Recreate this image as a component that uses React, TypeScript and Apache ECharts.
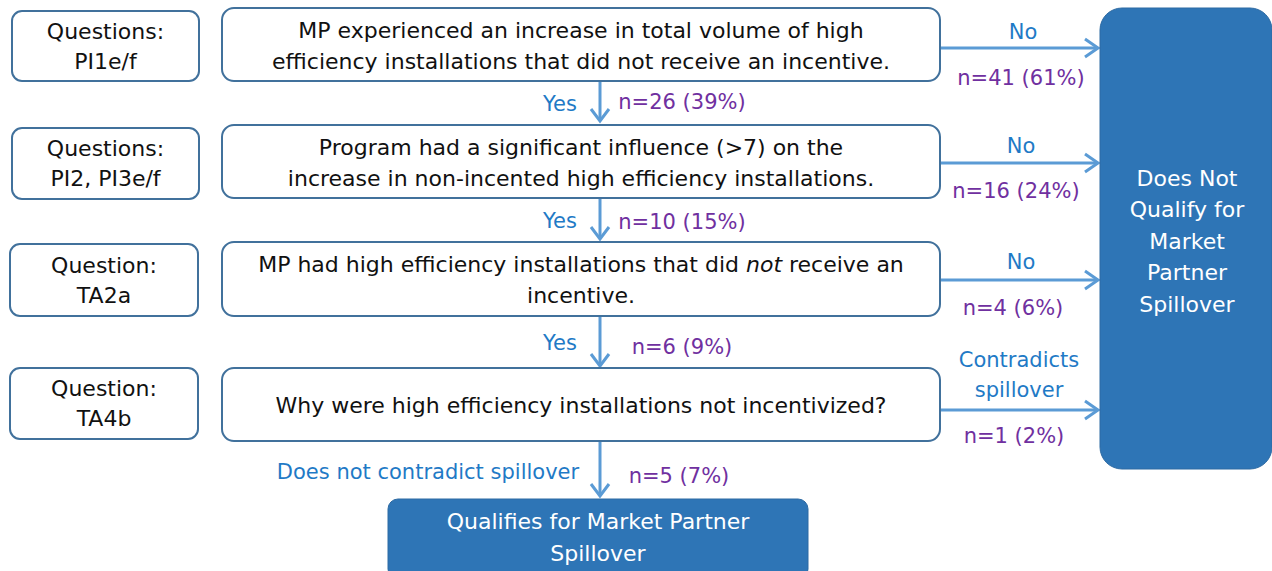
import React, { useEffect, useRef } from "react";
import * as echarts from "echarts";

const questionLabels = ["Questions:\nPI1e/f", "Questions:\nPI2, PI3e/f", "Question:\nTA2a", "Question:\nTA4b"];
const stepTexts = [
  "MP experienced an increase in total volume of high\nefficiency installations that did not receive an incentive.",
  "Program had a significant influence (>7) on the\nincrease in non-incented high efficiency installations.",
  "MP had high efficiency installations that did {i|not} receive an\nincentive.",
  "Why were high efficiency installations not incentivized?",
];
const exitLabels = ["No", "No", "No", "Contradicts\nspillover"];
const exitCounts = ["n=41 (61%)", "n=16 (24%)", "n=4 (6%)", "n=1 (2%)"];
const passLabels = ["Yes", "Yes", "Yes", "Does not contradict spillover"];
const passCounts = ["n=26 (39%)", "n=10 (15%)", "n=6 (9%)", "n=5 (7%)"];
const failOutcome = "Does Not\nQualify for\nMarket\nPartner\nSpillover";
const passOutcome = "Qualifies for Market Partner\nSpillover";

const FONT = "'DejaVu Sans', sans-serif";
const BORDER = "#41719c";
const ARROW = "#5b9bd5";
const BLUE_TXT = "#1f7ac6";
const PURPLE = "#7030a0";
const FILL = "#2e75b6";
const MAIN_SIZE = 22;
const LABEL_SIZE = 21;

export default function App() {
  const ref = useRef<HTMLDivElement>(null);
  useEffect(() => {
    const chart = echarts.init(ref.current!, null, { renderer: "svg" });
    const rows = [
      { top: 8, bottom: 81 },
      { top: 125, bottom: 198 },
      { top: 242, bottom: 316 },
      { top: 368, bottom: 441 },
    ];
    const leftBoxes = [
      { x: 12, y: 11, w: 187, h: 70 },
      { x: 12, y: 128, w: 187, h: 71 },
      { x: 10, y: 244, w: 188, h: 72 },
      { x: 10, y: 368, w: 188, h: 71 },
    ];
    const arrowYs = [48, 163, 280, 410];
    const exitLabelYs = [32, 146, 262, 375];
    const exitCountYs = [78, 191, 308, 436];
    const exitLabelXs = [1023, 1021, 1021, 1019];
    const exitCountXs = [1021, 1016, 1013, 1014];
    const vArrows = [
      { y1: 82, y2: 121 },
      { y1: 199, y2: 239 },
      { y1: 317, y2: 366 },
      { y1: 442, y2: 496 },
    ];
    const passLabelPos = [
      { x: 560, y: 104 },
      { x: 560, y: 221 },
      { x: 560, y: 343 },
      { x: 428, y: 472 },
    ];
    const passCountPos = [
      { x: 682, y: 102 },
      { x: 682, y: 222 },
      { x: 682, y: 347 },
      { x: 679, y: 476 },
    ];
    const els: any[] = [];
    const AX = 600;
    questionLabels.forEach((q, i) => {
      const b = leftBoxes[i];
      els.push({
        type: "rect",
        shape: { x: b.x, y: b.y, width: b.w, height: b.h, r: 10 },
        style: { fill: "#fff", stroke: BORDER, lineWidth: 2 },
      });
      els.push({
        type: "text",
        style: {
          text: q, x: b.x + b.w / 2, y: b.y + b.h / 2, align: "center", verticalAlign: "middle",
          font: `${MAIN_SIZE}px ${FONT}`, lineHeight: 30, fill: "#111",
        },
      });
      const r = rows[i];
      els.push({
        type: "rect",
        shape: { x: 222, y: r.top, width: 718, height: r.bottom - r.top, r: 12 },
        style: { fill: "#fff", stroke: BORDER, lineWidth: 2 },
      });
      els.push({
        type: "text",
        style: {
          text: stepTexts[i], x: 581, y: (r.top + r.bottom) / 2 + 1, align: "center", verticalAlign: "middle",
          font: `${MAIN_SIZE}px ${FONT}`, lineHeight: 31, fill: "#111",
          rich: { i: { fontStyle: "italic", fontSize: MAIN_SIZE, fontFamily: FONT, fill: "#111" } },
        },
      });
      const ay = arrowYs[i];
      els.push({ type: "line", shape: { x1: 941, y1: ay, x2: 1097, y2: ay }, style: { stroke: ARROW, lineWidth: 3 } });
      els.push({
        type: "polyline",
        shape: { points: [[1085, ay - 9], [1098, ay], [1085, ay + 9]] },
        style: { stroke: ARROW, lineWidth: 3, fill: null },
      });
      els.push({
        type: "text",
        style: {
          text: exitLabels[i], x: exitLabelXs[i], y: exitLabelYs[i], align: "center", verticalAlign: "middle",
          font: `${LABEL_SIZE}px ${FONT}`, lineHeight: 30, fill: BLUE_TXT,
        },
      });
      els.push({
        type: "text",
        style: {
          text: exitCounts[i], x: exitCountXs[i], y: exitCountYs[i], align: "center", verticalAlign: "middle",
          font: `${LABEL_SIZE}px ${FONT}`, fill: PURPLE,
        },
      });
      const v = vArrows[i];
      els.push({ type: "line", shape: { x1: AX, y1: v.y1, x2: AX, y2: v.y2 }, style: { stroke: ARROW, lineWidth: 3 } });
      els.push({
        type: "polyline",
        shape: { points: [[AX - 9, v.y2 - 12], [AX, v.y2], [AX + 9, v.y2 - 12]] },
        style: { stroke: ARROW, lineWidth: 3, fill: null },
      });
      els.push({
        type: "text",
        style: {
          text: passLabels[i], x: passLabelPos[i].x, y: passLabelPos[i].y, align: "center", verticalAlign: "middle",
          font: `${LABEL_SIZE}px ${FONT}`, fill: BLUE_TXT,
        },
      });
      els.push({
        type: "text",
        style: {
          text: passCounts[i], x: passCountPos[i].x, y: passCountPos[i].y, align: "center", verticalAlign: "middle",
          font: `${LABEL_SIZE}px ${FONT}`, fill: PURPLE,
        },
      });
    });
    els.push({
      type: "rect",
      shape: { x: 1100, y: 8, width: 172, height: 461, r: 22 },
      style: { fill: FILL, stroke: "#2d6aa3", lineWidth: 1 },
    });
    els.push({
      type: "text",
      style: {
        text: failOutcome, x: 1187, y: 241, align: "center", verticalAlign: "middle",
        font: `${MAIN_SIZE}px ${FONT}`, lineHeight: 31.5, fill: "#fff",
      },
    });
    els.push({
      type: "rect",
      shape: { x: 388, y: 499, width: 420, height: 80, r: 10 },
      style: { fill: FILL, stroke: "#2d6aa3", lineWidth: 1 },
    });
    els.push({
      type: "text",
      style: {
        text: passOutcome, x: 598, y: 537, align: "center", verticalAlign: "middle",
        font: `${MAIN_SIZE}px ${FONT}`, lineHeight: 32, fill: "#fff",
      },
    });
    chart.setOption({ animation: false, graphic: { elements: els } });
    return () => chart.dispose();
  }, []);
  return <div ref={ref} style={{ position: "fixed", left: 0, top: 0, width: 1272, height: 571, background: "#fff" }} />;
}
